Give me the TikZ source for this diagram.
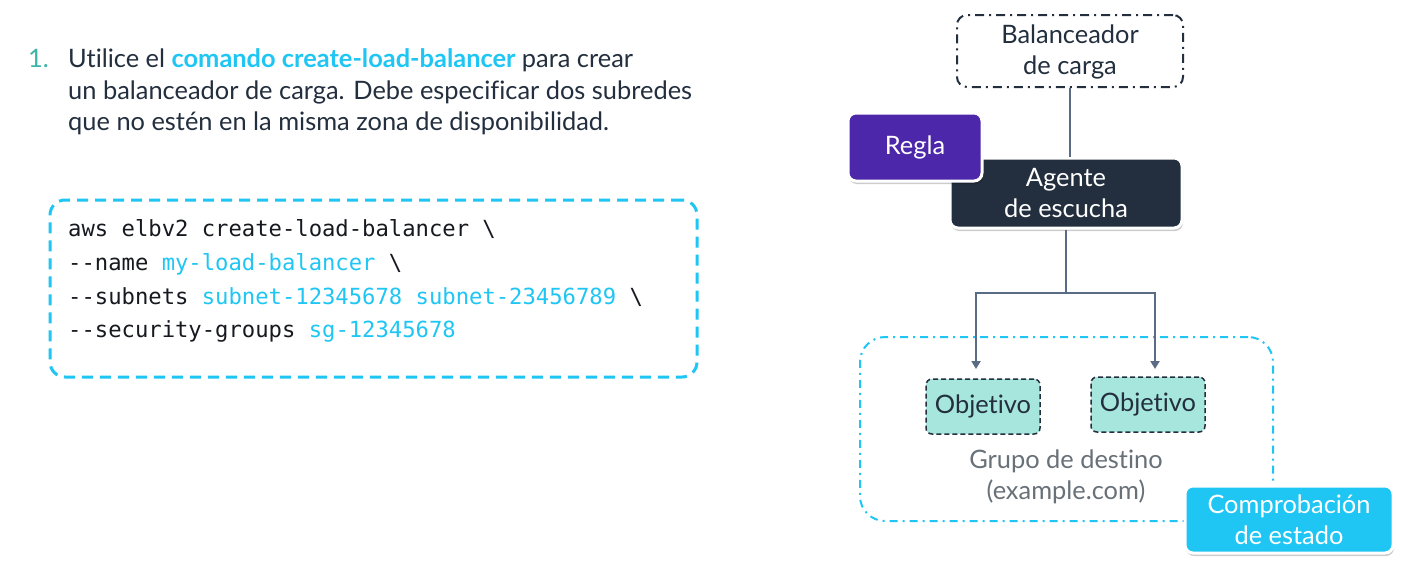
\documentclass[tikz,border=0pt]{standalone}
\usepackage{fontspec}
\setmainfont{Lato}[Ligatures={NoCommon}]
\setmonofont{DejaVu Sans Mono}
\usetikzlibrary{shadows,arrows.meta}
\definecolor{awscyan}{HTML}{1FC6F4}
\definecolor{awsteal}{HTML}{3DB5A6}
\definecolor{awsdark}{HTML}{232F3E}
\definecolor{codeblack}{HTML}{16191F}
\definecolor{conngray}{HTML}{5A6B86}
\definecolor{awspurple}{HTML}{4D27AA}
\definecolor{tgtfill}{HTML}{A6E6DC}
\definecolor{grouptext}{HTML}{687078}
\tikzset{
  bodytext/.style={anchor=base west, inner sep=0, text=awsdark, font=\fontsize{25.4}{31}\selectfont},
  codeline/.style={anchor=base west, inner sep=0, text=codeblack, font=\ttfamily\fontsize{22.2}{30}\selectfont},
  diagtext/.style={font=\fontsize{25.4}{31}\selectfont, align=center, inner sep=0},
  solidbox/.style={diagtext, rounded corners=8pt, draw=white, line width=3pt, text=white,
    drop shadow={shadow xshift=1pt, shadow yshift=-3pt, fill=black, opacity=0.2}},
  conn/.style={draw=conngray, line width=2pt},
  arrowconn/.style={conn, -{Triangle[width=9pt,length=8pt]}},
}
\begin{document}
\begin{tikzpicture}[x=1pt,y=-1pt]
\useasboundingbox (0,0) rectangle (1414,579);
\fill[white] (0,0) rectangle (1414,579);

% paragraph
\node[bodytext, text=awsteal] (num) at (28,67.7) {1.};
\node[bodytext] (p1) at (68,67.7) {Utilice el \textcolor{awscyan}{\bfseries comando create-load-balancer} para crear};
\node[bodytext] (p2) at (68,99) {un balanceador de carga. Debe especificar dos subredes};
\node[bodytext] (p3) at (68,130) {que no estén en la misma zona de disponibilidad.};

% code box
\node[draw=awscyan, line width=3pt, dash pattern=on 11pt off 7pt, rounded corners=15pt,
  minimum width=647pt, minimum height=177pt, inner sep=0] (codebox) at (373.5,288.5) {};
\node[codeline] (c1) at (68,236.7) {aws elbv2 create-load-balancer \textbackslash};
\node[codeline] (c2) at (68,270.5) {-{}-name \textcolor{awscyan}{my-load-balancer} \textbackslash};
\node[codeline] (c3) at (68,304) {-{}-subnets \textcolor{awscyan}{subnet-12345678 subnet-23456789} \textbackslash};
\node[codeline] (c4) at (68,337.5) {-{}-security-groups \textcolor{awscyan}{sg-12345678}};

% diagram
\node[diagtext, draw=awsdark, line width=2pt, dash pattern=on 9pt off 5pt on 2pt off 5pt,
  rounded corners=10pt, minimum width=226pt, minimum height=72pt, text=awsdark] (bal) at (1070,51)
  {\rule{0pt}{20pt}Balanceador\\de carga};

\node[solidbox, fill=awsdark, minimum width=232pt, minimum height=70pt] (ag) at (1066,193)
  {Agente\\de escucha};
\node[solidbox, fill=awspurple, minimum width=134pt, minimum height=68pt] (regla) at (915,147)
  {Regla};

\node[draw=awscyan, line width=2pt, dash pattern=on 8pt off 5pt on 2pt off 5pt,
  rounded corners=25pt, minimum width=413pt, minimum height=184pt, inner sep=0] (tg) at (1066.5,429) {};
\node[diagtext, text=grouptext] (tglabel) at (1066,477) {Grupo de destino\\(example.com)};

\node[diagtext, fill=tgtfill, draw=awsdark, line width=1.5pt, dash pattern=on 5pt off 3pt,
  rounded corners=6pt, minimum width=114pt, minimum height=55pt, text=awsdark] (obj1) at (983,406.5) {Objetivo};
\node[diagtext, fill=tgtfill, draw=awsdark, line width=1.5pt, dash pattern=on 5pt off 3pt,
  rounded corners=6pt, minimum width=114pt, minimum height=55pt, text=awsdark] (obj2) at (1148,404.5) {Objetivo};

\node[solidbox, fill=awscyan, minimum width=208pt, minimum height=67pt] (hc) at (1289,519.5)
  {Comprobación\\de estado};

% connectors
\draw[conn] (bal.south) -- (bal.south |- ag.north);
\coordinate (j) at (1066,293);
\coordinate (t1) at (976,369);
\coordinate (t2) at (1155,369);
\draw[conn] (ag.south) -- (j);
\draw[arrowconn] (j) -| (t1);
\draw[arrowconn] (j) -| (t2);
\end{tikzpicture}
\end{document}
